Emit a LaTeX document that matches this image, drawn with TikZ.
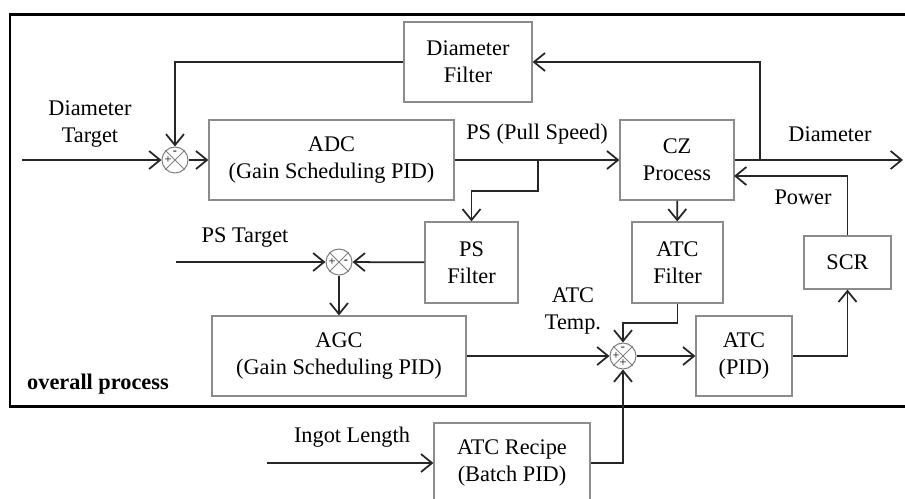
\documentclass[tikz,border=0pt]{standalone}
\usepackage{fontspec}
\setmainfont{Liberation Serif}
\usetikzlibrary{arrows.meta}

\begin{document}
\begin{tikzpicture}[x=0.2mm,y=-0.2mm,
    box/.style={draw=black!45,line width=0.7pt,align=center,inner sep=0pt,font=\fontsize{12.7}{15.3}\selectfont},
    sumnode/.style={circle,draw=black!50,line width=0.6pt,minimum size=5.2mm,inner sep=0pt},
    sign/.style={inner sep=0pt,font=\fontsize{7}{7}\selectfont},
    lbl/.style={align=center,font=\fontsize{12.7}{15.3}\selectfont},
    arr/.style={draw=black!85,line width=1pt,-{Straight Barb[length=2.2mm,width=3.6mm]}},
    wire/.style={draw=black!85,line width=1pt}]
    \clip (0,0) rectangle (905,498);
    \useasboundingbox (0,0) rectangle (905,498);
    \draw[line width=1.7pt] (10,14) rectangle (930,406);

    % blocks
    \node[box,minimum width=25.6mm,minimum height=16mm] (dfilt) at (468,62) {Diameter\\Filter};
    \node[box,minimum width=49mm,minimum height=16mm] (adc) at (331.5,160) {ADC\\(Gain Scheduling PID)};
    \node[box,minimum width=22.8mm,minimum height=16mm] (cz) at (677,160) {CZ\\Process};
    \node[box,minimum width=18.6mm,minimum height=16.2mm] (psfilt) at (471.5,262.5) {PS\\Filter};
    \node[box,minimum width=18.2mm,minimum height=16.2mm] (atcfilt) at (677.5,262.5) {ATC\\Filter};
    \node[box,minimum width=17.4mm,minimum height=10.6mm] (scr) at (847.5,262.5) {SCR};
    \node[box,minimum width=50.8mm,minimum height=16mm] (agc) at (339,356) {AGC\\(Gain Scheduling PID)};
    \node[box,minimum width=19.2mm,minimum height=16mm] (atcpid) at (744,356) {ATC\\(PID)};
    \node[box,minimum width=31.2mm,minimum height=16mm] (recipe) at (512,463) {ATC Recipe\\(Batch PID)};

    % summing junctions
    \node[sumnode] (sum1) at (175,160) {};
    \node[sumnode] (sum2) at (339,262) {};
    \node[sumnode] (sum3) at (623,356) {};
    \foreach \s in {sum1,sum2,sum3}
        \draw[black!50,line width=0.5pt] (\s.north west) -- (\s.south east) (\s.north east) -- (\s.south west);
    \node[sign] at ([yshift=1.4mm]sum1.center) {-};
    \node[sign] at ([xshift=-1.4mm]sum1.center) {+};
    \node[sign] at ([xshift=-1.4mm]sum2.center) {+};
    \node[sign] at ([xshift=1.4mm]sum2.center) {-};
    \node[sign] at ([yshift=1.4mm]sum3.center) {-};
    \node[sign] at ([xshift=-1.4mm]sum3.center) {+};
    \node[sign] at ([yshift=-1.4mm]sum3.center) {+};

    % free ends and taps
    \coordinate (dtin) at (22,160);
    \coordinate (pstin) at (176,262);
    \coordinate (ingin) at (267,463);
    \coordinate (dout) at (903,160);
    \coordinate (dtap) at (760,160);
    \coordinate (pstap) at (538,160);
    \coordinate (pin) at (734,176);

    % signals
    \draw[arr] (dtin) -- (sum1);
    \draw[arr] (sum1) -- (adc);
    \draw[arr] (adc) -- (cz);
    \draw[arr] (cz) -- (dout);
    \draw[arr] (dtap) |- (dfilt);
    \draw[arr] (dfilt) -| (sum1);
    \draw[arr] (pstap) -- ++(0,31) -| (psfilt);
    \draw[arr] (pstin) -- (sum2);
    \draw[arr] (psfilt) -- (sum2);
    \draw[arr] (sum2) -- (agc);
    \draw[arr] (cz) -- (atcfilt);
    \draw[arr] (atcfilt.south) -- ++(0,19) -| (sum3);
    \draw[arr] (agc) -- (sum3);
    \draw[arr] (sum3) -- (atcpid);
    \draw[arr] (atcpid) -| (scr);
    \draw[arr] (scr) |- (pin);
    \draw[arr] (ingin) -- (recipe);
    \draw[arr] (recipe) -| (sum3);

    % labels
    \node[lbl] (ldt) at (90,124) {Diameter\\Target};
    \node[lbl] (lps) at (537,134) {PS (Pull Speed)};
    \node[lbl] (ldia) at (830,134) {Diameter};
    \node[lbl] (lpow) at (803,197) {Power};
    \node[lbl] (lpst) at (245,238) {PS Target};
    \node[lbl] (ltemp) at (573,311) {ATC\\Temp.};
    \node[lbl] (ling) at (352,437) {Ingot Length};
    \node[lbl,anchor=west,font=\fontsize{12.7}{15.3}\selectfont\bfseries] (lover) at (21,384) {overall process};
\end{tikzpicture}
\end{document}
